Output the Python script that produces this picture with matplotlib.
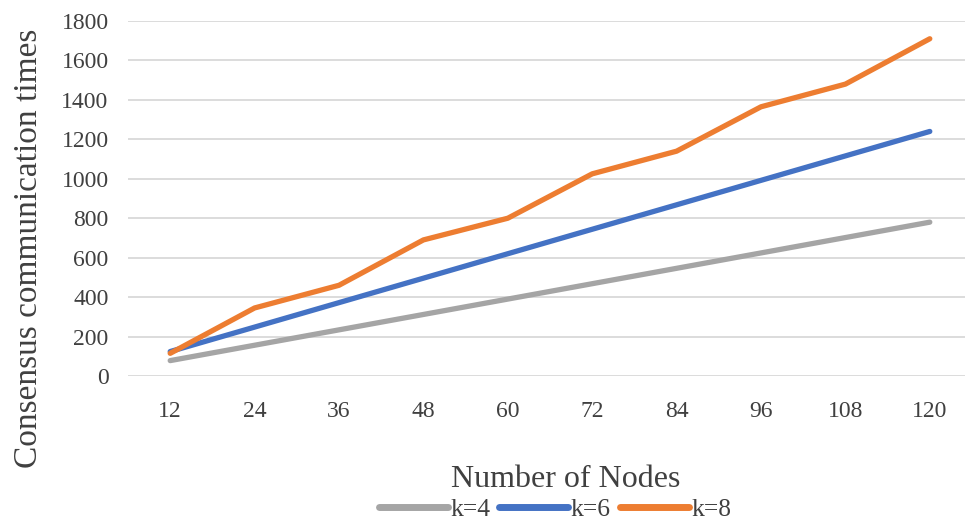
import matplotlib.pyplot as plt
import numpy as np

plt.rcParams["font.family"] = "Liberation Serif"

# data
nodes = [12, 24, 36, 48, 60, 72, 84, 96, 108, 120]
k4 = [78, 156, 234, 312, 390, 468, 546, 624, 702, 780]
k6 = [124, 248, 372, 496, 620, 744, 868, 992, 1116, 1240]
k8 = [115, 345, 460, 690, 800, 1025, 1140, 1365, 1480, 1710]
series_labels = ["k=4", "k=6", "k=8"]
colors = ["#A5A5A5", "#4472C4", "#ED7D31"]

fig = plt.figure(figsize=(9.65, 5.2), dpi=100)
ax = fig.add_axes([128 / 965, 144 / 520, 844 / 965, 355 / 520])

x = np.arange(len(nodes))
for vals, lab, c in zip([k4, k6, k8], series_labels, colors):
    ax.plot(x, vals, color=c, lw=3.8, label=lab, solid_capstyle="round",
            solid_joinstyle="round")

ax.set_xlim(-0.5, len(nodes) - 0.5)
ax.set_ylim(0, 1800)
ax.set_yticks(np.arange(0, 1801, 200))
ax.set_xticks(x)
ax.set_xticklabels(nodes)
ax.tick_params(axis="both", length=0, labelsize=17, labelcolor="#404040")
ax.tick_params(axis="x", pad=18)
ax.tick_params(axis="y", pad=14)
ax.grid(axis="y", color="#D9D9D9", lw=1.3)
ax.set_axisbelow(True)
for s in ax.spines.values():
    s.set_visible(False)

ax.set_ylabel("Consensus communication times", fontsize=24, color="#404040")
ax.yaxis.set_label_coords(-0.1, 0.36)
ax.set_xlabel("Number of Nodes", fontsize=23, color="#404040")
ax.xaxis.set_label_coords(0.518, -0.252)

leg = fig.legend(loc="center", bbox_to_anchor=(0.575, 0.02), ncol=3, frameon=False,
                 fontsize=18.4, handlelength=2.7, handletextpad=0.1,
                 columnspacing=0.35, labelcolor="#404040")
for h in leg.get_lines():
    h.set_linewidth(5)

fig.savefig("out.png", dpi=100)
